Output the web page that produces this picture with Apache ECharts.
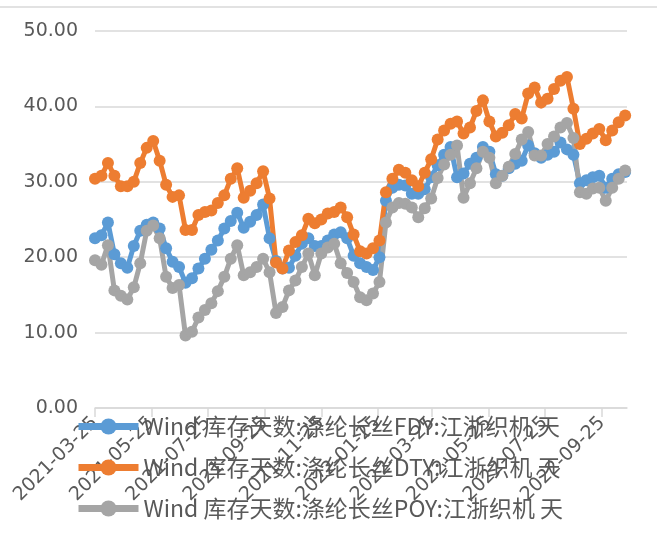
<!DOCTYPE html>
<html>
<head>
<meta charset="utf-8">
<script src="https://cdn.jsdelivr.net/npm/echarts@6/dist/echarts.min.js"></script>
<style>
html,body{margin:0;padding:0;background:#fff;}
#chart{width:657px;height:534px;}
</style>
</head>
<body>
<div id="chart"></div>
<script>
const dates = [
'2021-03-25','2021-04-01','2021-04-08','2021-04-15','2021-04-22','2021-04-29','2021-05-06','2021-05-13','2021-05-20','2021-05-27',
'2021-06-03','2021-06-10','2021-06-17','2021-06-24','2021-07-01','2021-07-08','2021-07-15','2021-07-22','2021-07-29','2021-08-05',
'2021-08-12','2021-08-19','2021-08-26','2021-09-02','2021-09-09','2021-09-16','2021-09-23','2021-09-30','2021-10-07','2021-10-14',
'2021-10-21','2021-10-28','2021-11-04','2021-11-11','2021-11-18','2021-11-25','2021-12-02','2021-12-09','2021-12-16','2021-12-23',
'2021-12-30','2022-01-06','2022-01-13','2022-01-20','2022-01-27','2022-02-03','2022-02-10','2022-02-17','2022-02-24','2022-03-03',
'2022-03-10','2022-03-17','2022-03-24','2022-03-31','2022-04-07','2022-04-14','2022-04-21','2022-04-28','2022-05-05','2022-05-12',
'2022-05-19','2022-05-26','2022-06-02','2022-06-09','2022-06-16','2022-06-23','2022-06-30','2022-07-07','2022-07-14','2022-07-21',
'2022-07-28','2022-08-04','2022-08-11','2022-08-18','2022-08-25','2022-09-01','2022-09-08','2022-09-15','2022-09-22','2022-09-29',
'2022-10-06','2022-10-13','2022-10-20'
];
const fdy = [
22.5,22.9,24.6,20.4,19.2,18.6,21.5,23.5,24.3,24.6,
23.8,21.2,19.4,18.7,16.6,17.2,18.5,19.8,21.0,22.2,
23.8,24.8,25.9,23.9,24.7,25.6,27.0,22.5,19.5,18.5,
18.6,20.2,21.8,22.5,21.5,21.5,22.2,23.0,23.3,22.5,
20.2,19.2,18.7,18.3,20.0,27.5,29.2,29.6,29.5,28.4,
28.4,29.0,30.6,32.2,33.6,34.6,30.6,31.1,32.4,33.2,
34.6,34.0,31.0,30.8,31.8,32.4,32.8,34.8,33.8,33.2,
33.6,34.0,35.2,34.3,33.6,29.8,30.2,30.6,30.8,29.2,
30.4,31.0,31.3
];
const dty = [
30.4,30.8,32.5,30.8,29.4,29.4,30.0,32.5,34.5,35.4,
32.8,29.6,28.0,28.2,23.6,23.6,25.6,26.0,26.2,27.2,
28.2,30.4,31.8,27.9,28.8,29.8,31.4,27.8,19.3,18.5,
20.9,22.0,22.9,25.1,24.5,25.0,25.8,26.0,26.6,25.3,
23.0,20.8,20.5,21.2,22.2,28.6,30.4,31.6,31.2,30.2,
29.4,31.2,33.0,35.6,36.8,37.7,38.0,36.4,37.2,39.4,
40.8,38.0,36.0,36.5,37.5,39.0,38.4,41.7,42.5,40.5,
41.0,42.3,43.4,43.9,39.7,35.0,35.7,36.4,37.0,35.5,
36.8,37.9,38.8
];
const poy = [
19.6,19.0,21.6,15.6,14.9,14.4,16.0,19.2,23.5,24.2,
22.5,17.4,15.9,16.3,9.6,10.1,12.0,13.0,13.9,15.5,
17.4,19.8,21.6,17.6,18.0,18.7,19.8,18.0,12.6,13.4,
15.6,16.9,18.7,20.5,17.6,20.5,21.3,21.8,19.2,17.9,
16.7,14.7,14.3,15.2,16.7,24.6,26.6,27.2,27.1,26.6,
25.3,26.5,27.8,30.5,32.3,33.6,34.8,27.9,29.8,31.8,
34.0,33.2,29.8,30.8,32.0,33.7,35.6,36.6,33.5,33.5,
35.0,36.0,37.2,37.8,35.8,28.6,28.4,29.1,29.2,27.5,
29.2,30.4,31.5
];
const tickLabels = ['2021-03-25','2021-05-25','2021-07-25','2021-09-25','2021-11-25','2022-01-25','2022-03-25','2022-05-25','2022-07-25','2022-09-25'];
const seriesNames = [
'Wind 库存天数:涤纶长丝FDY:江浙织机 天',
'Wind 库存天数:涤纶长丝DTY:江浙织机 天',
'Wind 库存天数:涤纶长丝POY:江浙织机 天'
];
const colors = ['#5B9BD5','#ED7D31','#A5A5A5'];

const dayOffset = d => Math.round((Date.parse(d) - Date.parse(dates[0])) / 86400000);
const tickValues = tickLabels.map(dayOffset);
const seriesData = [fdy, dty, poy];

const chart = echarts.init(document.getElementById('chart'), null, {renderer:'canvas'});
const txt = '#595959';
chart.setOption({
  animation:false,
  backgroundColor:'#fff',
  graphic:[{type:'line',shape:{x1:0,y1:7,x2:657,y2:7},style:{stroke:'#d9d9d9',lineWidth:1.5},silent:true}],
  grid:{left:95,right:30,top:31,bottom:126,containLabel:false},
  legend:{
    data:seriesNames,orient:'vertical',left:70,top:410,
    itemWidth:60,itemHeight:20,itemGap:18,
    lineStyle:{width:7},
    textStyle:{fontSize:23,color:txt,fontFamily:'Noto Sans CJK SC'}
  },
  xAxis:{
    type:'value',min:0,max:dayOffset(dates[dates.length-1])+2,
    axisLine:{show:true,lineStyle:{color:'#d9d9d9',width:1.5}},
    axisTick:{show:true,length:9,lineStyle:{color:'#d9d9d9',width:1.5},customValues:tickValues},
    axisLabel:{
      customValues:tickValues,rotate:45,margin:12,fontSize:19,color:txt,fontFamily:'DejaVu Sans',
      formatter:v=>{const k=tickValues.indexOf(v);return k>=0?tickLabels[k]:'';}
    },
    splitLine:{show:false}
  },
  yAxis:{
    type:'value',min:0,max:50,interval:10,
    axisLine:{show:false},axisTick:{show:false},
    axisLabel:{fontSize:19,color:txt,fontFamily:'DejaVu Sans',margin:17,formatter:v=>v.toFixed(2)},
    splitLine:{lineStyle:{color:'#d9d9d9',width:1.5}}
  },
  series:seriesNames.map((n,k)=>({
    name:n,type:'line',symbol:'circle',symbolSize:12,
    lineStyle:{width:5,color:colors[k]},
    itemStyle:{color:colors[k]},
    data:dates.map((d,i)=>[dayOffset(d),seriesData[k][i]])
  }))
});
</script>
</body>
</html>
